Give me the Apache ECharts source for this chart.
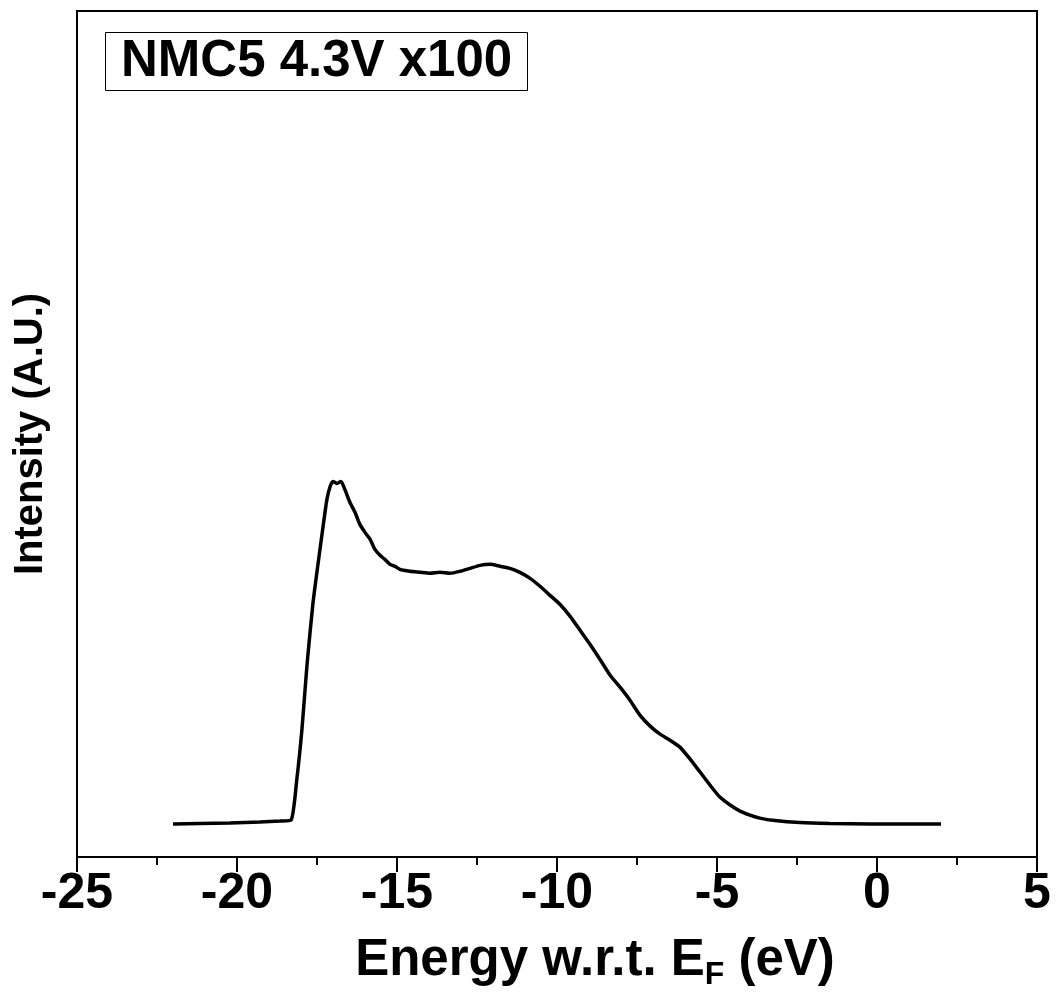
<!DOCTYPE html>
<html>
<head>
<meta charset="utf-8">
<script src="https://cdn.jsdelivr.net/npm/echarts@6/dist/echarts.min.js"></script>
<style>
  html, body { margin: 0; padding: 0; background: #fff; }
  #chart { width: 1056px; height: 996px; }
</style>
</head>
<body>
<div id="chart"></div>
<script>
// energy (eV) vs intensity (arbitrary units, 0-100 over the plot height)
const energy = [
  -22.0, -21.16, -20.22, -19.28, -18.66, -18.31, -18.13, -17.97, -17.81, -17.63,
  -17.47, -17.31, -17.19, -17.09, -17.0, -16.88, -16.75, -16.63, -16.47, -16.31,
  -16.16, -16.0, -15.84, -15.69, -15.53, -15.38, -15.22, -15.06, -14.91, -14.59,
  -14.28, -13.97, -13.66, -13.34, -13.03, -12.72, -12.41, -12.09, -11.78, -11.47,
  -11.16, -10.84, -10.53, -10.22, -9.91, -9.59, -9.28, -8.97, -8.66, -8.34,
  -8.03, -7.72, -7.41, -7.09, -6.78, -6.47, -6.16, -5.84, -5.53, -5.22,
  -4.91, -4.59, -4.28, -3.97, -3.66, -3.19, -2.41, -1.47, -0.22, 2.0
];
const intensity = [
  3.90, 3.96, 4.01, 4.13, 4.25, 4.37, 9.21, 15.11, 22.79, 29.87,
  34.59, 39.08, 42.27, 43.80, 44.39, 44.16, 44.39, 43.45, 41.91, 40.73,
  39.32, 38.37, 37.54, 36.36, 35.66, 35.18, 34.59, 34.36, 34.00, 33.77,
  33.65, 33.53, 33.65, 33.53, 33.77, 34.12, 34.47, 34.59, 34.36, 34.12,
  33.65, 32.94, 32.00, 30.93, 29.87, 28.45, 26.80, 25.15, 23.38, 21.49,
  20.07, 18.54, 16.77, 15.47, 14.52, 13.81, 12.99, 11.57, 10.04, 8.50,
  7.08, 6.14, 5.43, 4.96, 4.60, 4.31, 4.07, 3.96, 3.90, 3.90
];

const font = '"Liberation Sans", Arial, sans-serif';
const chart = echarts.init(document.getElementById("chart"));

chart.setOption({
  animation: false,
  backgroundColor: "#fff",
  title: {
    text: "NMC5 4.3V x100",
    left: 105,
    top: 32,
    padding: [4, 16, 4, 16],
    borderColor: "#000",
    borderWidth: 1,
    textStyle: { fontFamily: font, fontWeight: "bold", fontSize: 51, color: "#000" },
  },
  grid: { left: 77, right: 19, top: 11, bottom: 138, show: true, borderColor: "#000", borderWidth: 2 },
  xAxis: {
    type: "value",
    min: -25,
    max: 5,
    interval: 5,
    name: "{a|Energy w.r.t. E}{s|F}{a| (eV)}",
    nameLocation: "middle",
    nameGap: 74,
    nameTextStyle: {
      padding: [0, 0, 0, 76],
      rich: {
        a: { fontFamily: font, fontWeight: "bold", fontSize: 51, color: "#000" },
        s: { fontFamily: font, fontWeight: "bold", fontSize: 32, color: "#000", verticalAlign: "bottom", padding: [28, 0, 0, 0] },
      },
    },
    axisLine: { onZero: false, lineStyle: { color: "#000", width: 2 } },
    axisTick: { length: 15, lineStyle: { color: "#000", width: 2 } },
    minorTick: { show: true, splitNumber: 2, length: 8, lineStyle: { color: "#000", width: 2 } },
    splitLine: { show: false },
    axisLabel: { margin: 12, fontFamily: font, fontWeight: "bold", fontSize: 50, color: "#000" },
  },
  yAxis: {
    type: "value",
    min: 0,
    max: 100,
    name: "Intensity (A.U.)",
    nameLocation: "middle",
    nameGap: 26,
    nameTextStyle: { fontFamily: font, fontWeight: "bold", fontSize: 40, color: "#000" },
    axisLine: { show: true, onZero: false, lineStyle: { color: "#000", width: 2 } },
    axisTick: { show: false },
    axisLabel: { show: false },
    splitLine: { show: false },
  },
  series: [
    {
      type: "line",
      data: energy.map((e, i) => [e, intensity[i]]),
      showSymbol: false,
      smooth: 0.2,
      lineStyle: { color: "#000", width: 3.5 },
    },
  ],
});
</script>
</body>
</html>
